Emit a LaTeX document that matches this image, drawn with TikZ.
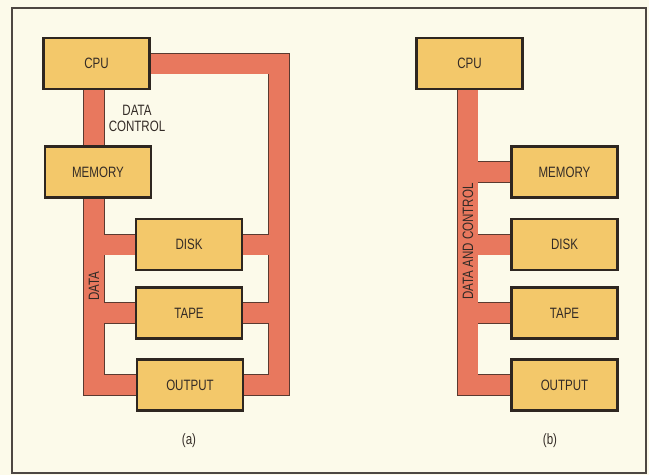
\documentclass[tikz,border=0pt]{standalone}
\usepackage{fontspec}
\setmainfont{Liberation Sans}[FakeStretch=0.77]
\usetikzlibrary{backgrounds}
\definecolor{paper}{HTML}{FCFAEA}
\definecolor{boxfill}{HTML}{F3C86A}
\definecolor{boxline}{HTML}{2E2620}
\definecolor{busfill}{HTML}{E8785E}
\definecolor{busline}{HTML}{5A3A30}
\definecolor{ink}{HTML}{332B26}
\tikzset{
  unit/.style={draw=boxline,fill=boxfill,line width=2.2pt,minimum width=106pt,minimum height=51pt,inner sep=0pt,text=ink},
  tag/.style={text=ink,inner sep=0pt}
}

\begin{document}
\begin{tikzpicture}[x=1pt,y=-1pt,line join=miter,font=\fontsize{15}{16.5}\selectfont]
  \useasboundingbox (0,0) rectangle (649,475);
  % (a) separate paths
  \node[unit] (cpuA) at (96.5,63.5) {CPU};
  \node[unit] (memA) at (98,172) {MEMORY};
  \node[unit] (diskA) at (189,244.5) {DISK};
  \node[unit] (tapeA) at (189,313) {TAPE};
  \node[unit] (outA) at (190,385) {OUTPUT};
  \coordinate (trunkA) at (94,0);
  \coordinate (railA) at (279,0);
  % (b) one shared bus
  \node[unit] (cpuB) at (469.5,63.5) {CPU};
  \node[unit] (memB) at (564.5,172) {MEMORY};
  \node[unit] (diskB) at (564.5,244.5) {DISK};
  \node[unit] (tapeB) at (564.5,313) {TAPE};
  \node[unit] (outB) at (564.5,385) {OUTPUT};
  \coordinate (trunkB) at (467.5,0);
  \begin{pgfonlayer}{background}
    \fill[paper] (0,0) rectangle (649,475);
    \draw[boxline!85,line width=1.6pt] (12,8) rectangle (646,473);
    \foreach \w/\c in {21.4/busline,20/busfill} {
      \draw[line width=\w pt,draw=\c] (trunkA |- cpuA.south) -- (trunkA |- memA.north);
      \draw[line width=\w pt,draw=\c] (cpuA.east) -- (railA |- cpuA.east) -- (railA |- outA.east) -- (outA.east);
      \draw[line width=\w pt,draw=\c] (trunkA |- memA.south) -- (trunkA |- outA.west) -- (outA.west);
      \draw[line width=\w pt,draw=\c] (trunkA |- diskA.west) -- (diskA.west);
      \draw[line width=\w pt,draw=\c] (trunkA |- tapeA.west) -- (tapeA.west);
      \draw[line width=\w pt,draw=\c] (railA |- diskA.east) -- (diskA.east);
      \draw[line width=\w pt,draw=\c] (railA |- tapeA.east) -- (tapeA.east);
      \draw[line width=\w pt,draw=\c] (trunkB |- cpuB.south) -- (trunkB |- outB.west) -- (outB.west);
      \draw[line width=\w pt,draw=\c] (trunkB |- memB.west) -- (memB.west);
      \draw[line width=\w pt,draw=\c] (trunkB |- diskB.west) -- (diskB.west);
      \draw[line width=\w pt,draw=\c] (trunkB |- tapeB.west) -- (tapeB.west);
    }
  \end{pgfonlayer}
  \node[tag,align=center] (dcA) at (137,118.5) {DATA\\CONTROL};
  \node[tag,rotate=90] (dataA) at (94,286) {DATA};
  \node[tag,rotate=90] (dcB) at (468,241.5) {DATA AND CONTROL};
  \node[tag] (capA) at (189,441) {(a)};
  \node[tag] (capB) at (550,441) {(b)};
\end{tikzpicture}
\end{document}
